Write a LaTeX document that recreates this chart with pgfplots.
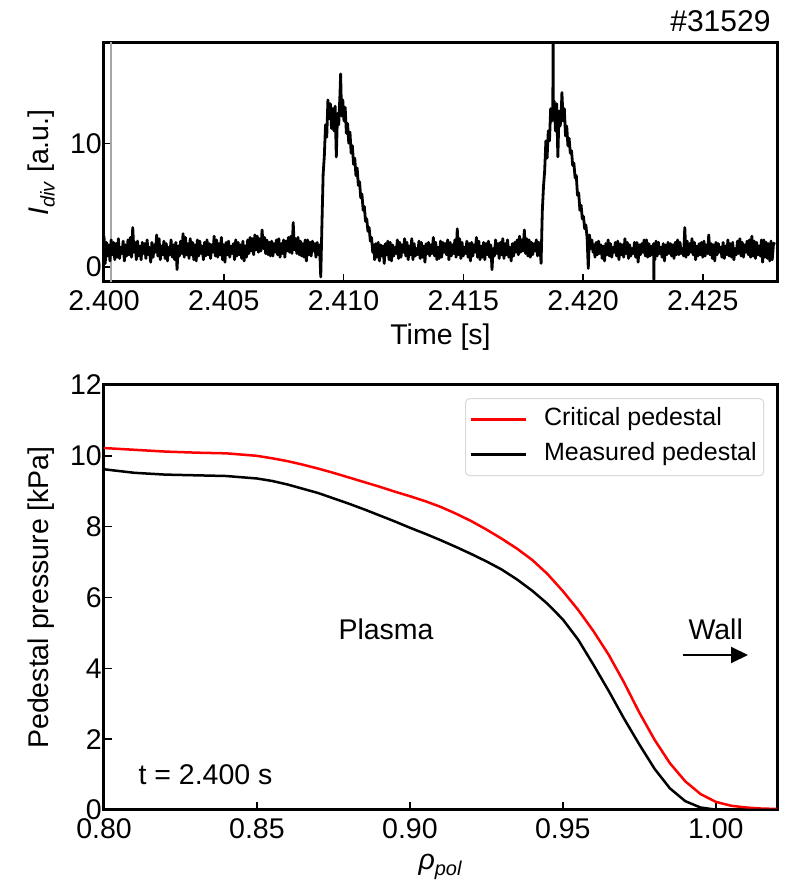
\documentclass[border=0pt]{standalone}
\usepackage{fontspec}
\setmainfont{Liberation Sans}
\usepackage{pgfplots}
\pgfplotsset{compat=1.18}
\usetikzlibrary{arrows.meta}

\newcommand{\bigf}{\fontsize{28.5}{34}\selectfont}

\pgfplotstableread[row sep=\\]{
t y\\
2.40000 2.5\\ 2.40005 0.3\\ 2.40010 2.0\\ 2.40015 0.9\\ 2.40020 1.8\\ 2.40025 0.5\\ 2.40030 2.2\\ 2.40035 1.0\\ 2.40040 2.0\\ 2.40045 0.6\\
2.40050 1.9\\ 2.40055 0.8\\ 2.40060 2.3\\ 2.40065 0.7\\ 2.40070 1.6\\ 2.40075 1.1\\ 2.40080 2.1\\ 2.40085 0.5\\ 2.40090 1.8\\ 2.40095 0.9\\
2.40100 2.2\\ 2.40105 1.0\\ 2.40110 2.4\\ 2.40115 0.8\\ 2.40120 3.2\\ 2.40125 1.2\\ 2.40130 2.0\\ 2.40135 0.6\\ 2.40140 2.1\\ 2.40145 0.9\\
2.40150 1.7\\ 2.40155 0.6\\ 2.40160 2.0\\ 2.40165 1.1\\ 2.40170 1.9\\ 2.40175 0.7\\ 2.40180 2.2\\ 2.40185 1.0\\ 2.40190 1.6\\ 2.40195 0.4\\
2.40200 2.0\\ 2.40205 0.8\\ 2.40210 1.8\\ 2.40215 1.2\\ 2.40220 2.6\\ 2.40225 0.9\\ 2.40230 2.3\\ 2.40235 0.6\\ 2.40240 1.7\\ 2.40245 1.0\\
2.40250 2.1\\ 2.40255 0.7\\ 2.40260 1.9\\ 2.40265 0.5\\ 2.40270 1.6\\ 2.40275 1.0\\ 2.40280 2.2\\ 2.40285 0.8\\ 2.40290 1.8\\ 2.40295 0.6\\
2.40300 2.0\\ 2.40305 -0.2\\ 2.40310 1.7\\ 2.40315 0.9\\ 2.40320 2.1\\ 2.40325 1.1\\ 2.40330 2.7\\ 2.40335 0.8\\ 2.40340 2.4\\ 2.40345 1.0\\
2.40350 1.9\\ 2.40355 0.7\\ 2.40360 2.3\\ 2.40365 1.0\\ 2.40370 2.0\\ 2.40375 0.6\\ 2.40380 1.8\\ 2.40385 0.5\\ 2.40390 2.2\\ 2.40395 0.9\\
2.40400 2.1\\ 2.40405 1.1\\ 2.40410 1.7\\ 2.40415 0.6\\ 2.40420 2.0\\ 2.40425 0.9\\ 2.40430 2.2\\ 2.40435 1.0\\ 2.40440 1.9\\ 2.40445 0.7\\
2.40450 1.8\\ 2.40455 1.2\\ 2.40460 2.5\\ 2.40465 0.9\\ 2.40470 2.2\\ 2.40475 0.8\\ 2.40480 1.9\\ 2.40485 1.0\\ 2.40490 2.4\\ 2.40495 0.6\\
2.40500 1.8\\ 2.40505 0.4\\ 2.40510 2.0\\ 2.40515 1.0\\ 2.40520 2.1\\ 2.40525 0.8\\ 2.40530 1.7\\ 2.40535 1.1\\ 2.40540 1.9\\ 2.40545 0.6\\
2.40550 2.2\\ 2.40555 0.9\\ 2.40560 2.0\\ 2.40565 1.0\\ 2.40570 1.8\\ 2.40575 0.7\\ 2.40580 2.1\\ 2.40585 0.5\\ 2.40590 1.7\\ 2.40595 0.8\\
2.40600 2.2\\ 2.40605 1.1\\ 2.40610 2.4\\ 2.40615 1.3\\ 2.40620 2.3\\ 2.40625 1.0\\ 2.40630 2.6\\ 2.40635 1.4\\ 2.40640 2.5\\ 2.40645 1.2\\
2.40650 2.3\\ 2.40655 1.3\\ 2.40660 3.0\\ 2.40665 1.5\\ 2.40670 2.4\\ 2.40675 1.1\\ 2.40680 2.2\\ 2.40685 1.0\\ 2.40690 2.0\\ 2.40695 0.9\\
2.40700 2.1\\ 2.40705 0.9\\ 2.40710 1.9\\ 2.40715 1.2\\ 2.40720 2.2\\ 2.40725 1.0\\ 2.40730 2.3\\ 2.40735 0.8\\ 2.40740 1.9\\ 2.40745 1.1\\
2.40750 2.2\\ 2.40755 0.8\\ 2.40760 2.1\\ 2.40765 1.3\\ 2.40770 2.4\\ 2.40775 1.2\\ 2.40780 2.5\\ 2.40785 1.1\\ 2.40790 3.6\\ 2.40795 1.4\\
2.40800 2.3\\ 2.40805 1.1\\ 2.40810 2.4\\ 2.40815 1.0\\ 2.40820 2.1\\ 2.40825 0.9\\ 2.40830 1.9\\ 2.40835 0.8\\ 2.40840 2.2\\ 2.40845 0.5\\
2.40850 2.2\\ 2.40855 1.0\\ 2.40860 2.0\\ 2.40865 0.9\\ 2.40870 2.1\\ 2.40875 1.3\\ 2.40880 1.9\\ 2.40885 0.8\\ 2.40890 2.0\\ 2.40895 1.0\\
2.40900 1.8\\ 2.40905 -0.8\\
2.40910 3.5\\ 2.40915 7.5\\ 2.40920 9.0\\ 2.40925 11.5\\ 2.40930 10.5\\ 2.40935 13.5\\ 2.40940 12.0\\ 2.40945 13.2\\ 2.40950 11.2\\ 2.40955 12.8\\
2.40960 11.0\\ 2.40965 13.0\\ 2.40970 8.9\\ 2.40975 12.4\\ 2.40980 11.5\\ 2.40985 13.8\\ 2.40988 15.6\\ 2.40992 12.2\\ 2.40997 13.5\\ 2.41002 11.8\\
2.41007 12.9\\ 2.41012 10.8\\ 2.41017 11.6\\ 2.41022 10.0\\ 2.41027 10.9\\ 2.41032 9.2\\ 2.41037 9.8\\ 2.41042 8.3\\ 2.41047 8.8\\ 2.41052 7.4\\
2.41057 8.0\\ 2.41062 6.6\\ 2.41067 6.9\\ 2.41072 5.6\\ 2.41077 5.9\\ 2.41082 4.6\\ 2.41087 4.9\\ 2.41092 3.7\\ 2.41097 3.9\\ 2.41102 2.9\\
2.41107 3.2\\ 2.41112 2.1\\ 2.41117 2.4\\ 2.41122 1.2\\ 2.41127 1.8\\
2.41130 0.6\\ 2.41135 1.9\\ 2.41140 0.8\\ 2.41145 2.0\\ 2.41150 0.5\\ 2.41155 1.8\\ 2.41160 0.9\\ 2.41165 1.7\\ 2.41170 0.3\\ 2.41175 1.9\\
2.41180 1.0\\ 2.41185 2.1\\ 2.41190 0.6\\ 2.41195 2.0\\ 2.41200 0.5\\ 2.41205 1.8\\ 2.41210 0.9\\ 2.41215 1.6\\ 2.41220 1.1\\ 2.41225 2.2\\
2.41230 0.7\\ 2.41235 2.0\\ 2.41240 0.8\\ 2.41245 1.8\\ 2.41250 1.2\\ 2.41255 2.3\\ 2.41260 0.9\\ 2.41265 2.0\\ 2.41270 0.6\\ 2.41275 1.7\\
2.41280 1.0\\ 2.41285 2.3\\ 2.41290 0.6\\ 2.41295 1.9\\ 2.41300 0.9\\ 2.41305 1.5\\ 2.41310 1.0\\ 2.41315 2.1\\ 2.41320 0.7\\ 2.41325 2.0\\
2.41330 0.8\\ 2.41335 1.7\\ 2.41340 0.4\\ 2.41345 1.9\\ 2.41350 1.1\\ 2.41355 2.0\\ 2.41360 0.9\\ 2.41365 1.8\\ 2.41370 1.1\\ 2.41375 2.4\\
2.41380 0.9\\ 2.41385 2.0\\ 2.41390 0.6\\ 2.41395 1.6\\ 2.41400 0.7\\ 2.41405 2.1\\ 2.41410 0.8\\ 2.41415 2.0\\ 2.41420 1.2\\ 2.41425 1.9\\
2.41430 1.0\\ 2.41435 2.2\\ 2.41440 0.6\\ 2.41445 2.0\\ 2.41450 0.9\\ 2.41455 1.8\\ 2.41460 1.1\\ 2.41465 2.2\\ 2.41470 0.8\\ 2.41475 3.1\\
2.41480 1.0\\ 2.41485 2.3\\ 2.41490 0.7\\ 2.41495 2.0\\ 2.41500 0.9\\ 2.41505 1.6\\ 2.41510 1.1\\ 2.41515 2.1\\ 2.41520 0.8\\ 2.41525 1.9\\
2.41530 0.5\\ 2.41535 2.0\\ 2.41540 0.9\\ 2.41545 1.8\\ 2.41550 1.2\\ 2.41555 2.4\\ 2.41560 0.8\\ 2.41565 2.1\\ 2.41570 0.6\\ 2.41575 1.7\\
2.41580 0.8\\ 2.41585 2.0\\ 2.41590 0.6\\ 2.41595 1.9\\ 2.41600 1.0\\ 2.41605 2.1\\ 2.41610 0.8\\ 2.41615 1.8\\ 2.41620 -0.2\\ 2.41625 1.5\\
2.41630 0.9\\ 2.41635 2.2\\ 2.41640 1.1\\ 2.41645 1.9\\ 2.41650 0.7\\ 2.41655 2.0\\ 2.41660 1.0\\ 2.41665 2.3\\ 2.41670 0.7\\ 2.41675 1.9\\
2.41680 1.0\\ 2.41685 2.2\\ 2.41690 0.8\\ 2.41695 1.6\\ 2.41700 0.5\\ 2.41705 1.9\\ 2.41710 0.9\\ 2.41715 2.0\\ 2.41720 1.2\\ 2.41725 2.2\\
2.41730 1.0\\ 2.41735 2.5\\ 2.41740 1.2\\ 2.41745 2.2\\ 2.41750 1.3\\ 2.41755 3.0\\ 2.41760 1.1\\ 2.41765 2.3\\ 2.41770 0.9\\ 2.41775 2.2\\
2.41780 0.8\\ 2.41785 2.0\\ 2.41790 1.0\\ 2.41795 1.9\\ 2.41800 1.3\\ 2.41805 2.2\\ 2.41810 0.9\\ 2.41815 2.0\\ 2.41820 1.8\\
2.41825 0.3\\ 2.41830 4.5\\ 2.41835 6.5\\ 2.41840 7.8\\ 2.41845 10.2\\ 2.41850 8.8\\ 2.41855 11.0\\ 2.41860 10.2\\ 2.41865 12.8\\ 2.41870 11.8\\
2.41874 12.5\\ 2.41875 19.5\\ 2.41876 12.2\\ 2.41880 13.4\\ 2.41885 11.0\\ 2.41890 13.2\\ 2.41895 8.9\\ 2.41900 12.6\\ 2.41905 11.4\\ 2.41910 13.0\\
2.41912 14.1\\ 2.41917 11.8\\ 2.41922 12.8\\ 2.41927 10.6\\ 2.41932 11.4\\ 2.41937 9.8\\ 2.41942 10.4\\ 2.41947 9.2\\ 2.41952 9.4\\ 2.41957 8.2\\
2.41962 8.4\\ 2.41967 7.2\\ 2.41972 7.4\\ 2.41977 5.8\\ 2.41982 6.0\\ 2.41987 4.6\\ 2.41992 5.0\\ 2.41997 3.9\\ 2.42002 4.1\\ 2.42007 3.1\\
2.42012 3.4\\ 2.42017 2.4\\ 2.42022 -0.1\\ 2.42027 2.6\\ 2.42032 1.5\\ 2.42037 2.2\\ 2.42042 1.2\\ 2.42047 1.8\\
2.42050 0.8\\ 2.42055 2.0\\ 2.42060 1.0\\ 2.42065 2.1\\ 2.42070 1.1\\ 2.42075 1.8\\ 2.42080 0.7\\ 2.42085 1.7\\ 2.42090 0.5\\ 2.42095 1.9\\
2.42100 1.0\\ 2.42105 2.2\\ 2.42110 0.9\\ 2.42115 1.9\\ 2.42120 0.8\\ 2.42125 1.6\\ 2.42130 1.2\\ 2.42135 2.0\\ 2.42140 0.9\\ 2.42145 2.1\\
2.42150 0.6\\ 2.42155 1.9\\ 2.42160 1.0\\ 2.42165 1.8\\ 2.42170 0.8\\ 2.42175 2.3\\ 2.42180 1.1\\ 2.42185 2.0\\ 2.42190 0.7\\ 2.42195 1.8\\
2.42200 0.9\\ 2.42205 1.5\\ 2.42210 1.1\\ 2.42215 2.0\\ 2.42220 0.8\\ 2.42225 2.0\\ 2.42230 0.4\\ 2.42235 1.8\\ 2.42240 1.0\\ 2.42245 1.9\\
2.42250 1.2\\ 2.42255 2.2\\ 2.42260 0.9\\ 2.42265 2.2\\ 2.42270 0.8\\ 2.42275 1.9\\ 2.42280 0.9\\ 2.42285 1.7\\ 2.42290 1.0\\
2.42295 1.9\\ 2.42296 -1.0\\ 2.42297 1.4\\
2.42300 0.6\\ 2.42305 2.1\\ 2.42310 0.9\\ 2.42315 2.0\\ 2.42320 1.1\\ 2.42325 1.6\\ 2.42330 0.8\\ 2.42335 1.9\\ 2.42340 0.5\\ 2.42345 1.8\\
2.42350 1.0\\ 2.42355 2.0\\ 2.42360 1.1\\ 2.42365 1.9\\ 2.42370 0.9\\ 2.42375 1.8\\ 2.42380 0.7\\ 2.42385 2.0\\ 2.42390 1.0\\ 2.42395 2.2\\
2.42400 1.0\\ 2.42405 2.0\\ 2.42410 1.1\\ 2.42415 1.5\\ 2.42420 0.9\\ 2.42425 3.2\\ 2.42430 0.8\\ 2.42435 2.1\\ 2.42440 1.0\\ 2.42445 1.9\\
2.42450 1.2\\ 2.42455 2.3\\ 2.42460 1.0\\ 2.42465 2.0\\ 2.42470 0.6\\ 2.42475 1.7\\ 2.42480 0.9\\ 2.42485 1.9\\ 2.42490 1.0\\ 2.42495 2.0\\
2.42500 0.8\\ 2.42505 2.1\\ 2.42510 0.9\\ 2.42515 1.8\\ 2.42520 1.1\\ 2.42525 2.6\\ 2.42530 1.0\\ 2.42535 1.9\\ 2.42540 0.7\\ 2.42545 1.8\\
2.42550 0.5\\ 2.42555 2.0\\ 2.42560 1.0\\ 2.42565 1.9\\ 2.42570 1.2\\ 2.42575 1.6\\ 2.42580 0.8\\ 2.42585 2.0\\ 2.42590 0.7\\ 2.42595 1.7\\
2.42600 1.0\\ 2.42605 2.2\\ 2.42610 0.9\\ 2.42615 1.9\\ 2.42620 0.8\\ 2.42625 2.0\\ 2.42630 0.6\\ 2.42635 1.5\\ 2.42640 1.0\\ 2.42645 2.1\\
2.42650 1.1\\ 2.42655 2.3\\ 2.42660 0.9\\ 2.42665 2.0\\ 2.42670 0.8\\ 2.42675 1.8\\ 2.42680 1.2\\ 2.42685 2.1\\ 2.42690 1.0\\ 2.42695 2.2\\
2.42700 0.8\\ 2.42705 2.5\\ 2.42710 0.9\\ 2.42715 2.1\\ 2.42720 0.7\\ 2.42725 2.0\\ 2.42730 1.0\\ 2.42735 1.7\\ 2.42740 0.9\\ 2.42745 2.2\\
2.42750 0.4\\ 2.42755 2.2\\ 2.42760 0.8\\ 2.42765 2.0\\ 2.42770 0.7\\ 2.42775 1.9\\ 2.42780 0.5\\ 2.42785 2.1\\ 2.42790 0.6\\ 2.42795 1.8\\
2.42800 2.0\\
}\idiv

\pgfplotstableread[row sep=\\]{
r crit meas\\
0.800 10.22 9.62\\
0.810 10.17 9.52\\
0.820 10.12 9.47\\
0.830 10.09 9.45\\
0.840 10.07 9.43\\
0.850 10.00 9.36\\
0.855 9.93 9.29\\
0.860 9.85 9.19\\
0.865 9.75 9.07\\
0.870 9.64 8.95\\
0.875 9.52 8.80\\
0.880 9.39 8.65\\
0.885 9.26 8.49\\
0.890 9.13 8.32\\
0.895 8.99 8.15\\
0.900 8.86 7.97\\
0.905 8.72 7.80\\
0.910 8.56 7.62\\
0.915 8.37 7.43\\
0.920 8.16 7.23\\
0.925 7.92 7.02\\
0.930 7.66 6.79\\
0.935 7.38 6.51\\
0.940 7.06 6.19\\
0.945 6.66 5.82\\
0.950 6.18 5.38\\
0.955 5.65 4.81\\
0.960 5.05 4.10\\
0.965 4.38 3.36\\
0.970 3.60 2.58\\
0.975 2.75 1.85\\
0.980 1.98 1.16\\
0.985 1.32 0.61\\
0.990 0.81 0.25\\
0.995 0.45 0.07\\
1.000 0.23 0.01\\
1.005 0.12 0.00\\
1.010 0.07 0.00\\
1.015 0.04 0.00\\
1.020 0.03 0.00\\
}\ped

\begin{document}
\begin{tikzpicture}
\useasboundingbox (0pt,0pt) rectangle (790pt,881pt);
\pgfplotsset{
  myax/.style={
    scale only axis,
    font=\bigf,
    tick align=inside,
    major tick length=8pt,
    tick style={line width=1.5pt, black},
    axis line style={line width=3pt},
    xtick pos=left, ytick pos=left,
    ticklabel style={font=\bigf, inner sep=2pt},
    xticklabel style={yshift=-6pt},
    every axis y label/.style={at={(axis description cs:-0.093,0.5)}, rotate=90, anchor=center},
  }
}
\begin{axis}[myax,
  at={(104pt,599pt)}, anchor=south west,
  width=673pt, height=239pt,
  xmin=2.400, xmax=2.4281, ymin=-1.2, ymax=18.1,
  xtick={2.400,2.405,2.410,2.415,2.420,2.425},
  xticklabels={2.400,2.405,2.410,2.415,2.420,2.425},
  ytick={0,10}, yticklabels={0,10},
  xlabel={Time [s]},
  every axis x label/.style={at={(axis description cs:0.5,-0.232)}, anchor=center},
  ylabel={\textit{I}\textsubscript{\textit{div}} [a.u.]},
]
\addplot[gray!70, line width=1.5pt] coordinates {(2.4003,-5) (2.4003,25)};
\addplot[black, line width=2.8pt, line join=round] table[x=t, y=y] {\idiv};
\end{axis}

\begin{axis}[myax,
  at={(104pt,71pt)}, anchor=south west,
  width=673pt, height=425pt,
  xmin=0.80, xmax=1.02, ymin=0, ymax=12,
  xtick={0.80,0.85,0.90,0.95,1.00},
  xticklabels={0.80,0.85,0.90,0.95,1.00},
  ytick={0,2,4,6,8,10,12}, yticklabels={0,2,4,6,8,10,12},
  xlabel={\textit{ρ}\textsubscript{\textit{pol}}},
  every axis x label/.style={at={(axis description cs:0.5,-0.134)}, anchor=center},
  ylabel={Pedestal pressure [kPa]},
  legend cell align=left,
  legend image code/.code={\draw[#1, line width=2.5pt] (0pt,0pt) -- (55pt,0pt);},
  legend style={at={(axis description cs:0.981,0.969)}, anchor=north east,
    draw=black!15, line width=1pt, rounded corners=4pt,
    font=\fontsize{25}{30}\selectfont, inner xsep=4pt, inner ysep=6pt,
    nodes={inner sep=3pt, text height=18pt, text depth=6pt},
    /tikz/every odd column/.append style={column sep=14pt},
    row sep=5pt},
]
\addplot[red, line width=2.5pt] table[x=r, y=crit] {\ped};
\addlegendentry{Critical pedestal}
\addplot[black, line width=2.5pt] table[x=r, y=meas] {\ped};
\addlegendentry{Measured pedestal}
\end{axis}

\node[anchor=base east, font=\fontsize{30}{36}\selectfont] at (774pt,849pt) {\#31529};
\node[anchor=base west, font=\bigf] at (335pt,241pt) {Plasma};
\node[anchor=base west, font=\bigf] at (685pt,241pt) {Wall};
\draw[line width=2pt, -{Triangle[length=17pt, width=16pt]}] (683pt,226pt) -- (748pt,226pt);
\node[anchor=base west, font=\bigf] at (135pt,96pt) {t = 2.400 s};
\end{tikzpicture}
\end{document}
